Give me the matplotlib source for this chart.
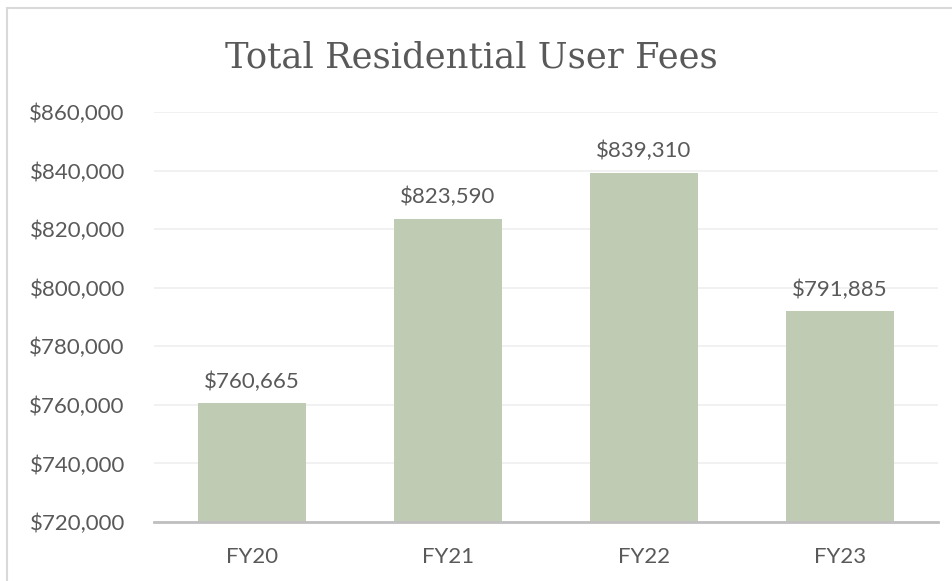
import matplotlib
matplotlib.use("Agg")
import matplotlib.pyplot as plt
from matplotlib.patches import Rectangle
from matplotlib.ticker import FuncFormatter

# data
years = ["FY20", "FY21", "FY22", "FY23"]
fees = [760665, 823590, 839310, 791885]
y_ticks = [720000, 740000, 760000, 780000, 800000, 820000, 840000, 860000]

text_color = "#595959"
bar_color = "#BFCBB2"

fig = plt.figure(figsize=(9.52, 5.81), dpi=100)
fig.patches.append(Rectangle((7 / 952, -0.1), 1.2, 1 - 8 / 581 + 0.1,
                             transform=fig.transFigure, fill=False,
                             edgecolor="#D9D9D9", linewidth=1.5))

ax = fig.add_axes([154 / 952, 1 - 522 / 581, (938 - 154) / 952, (522 - 112) / 581])

x = range(len(years))
ax.bar(x, fees, width=0.556, color=bar_color, zorder=2)

for i, v in enumerate(fees):
    ax.annotate("${:,}".format(v), (i, v), xytext=(0, 8), textcoords="offset points",
                ha="center", va="bottom", fontsize=16, color=text_color, family="Lato")

ax.set_xlim(-0.5, len(years) - 0.5)
ax.set_ylim(720000, 860000)
ax.set_yticks(y_ticks)
ax.yaxis.set_major_formatter(FuncFormatter(lambda v, p: "${:,.0f}".format(v)))
ax.set_xticks(list(x))
ax.set_xticklabels(years)

ax.grid(axis="y", color="#EFEFEF", linewidth=1.2, zorder=0)
for s in ["top", "right", "left"]:
    ax.spines[s].set_visible(False)
ax.spines["bottom"].set_color("#BFBFBF")
ax.spines["bottom"].set_linewidth(2)
ax.spines["bottom"].set_zorder(3)

ax.tick_params(length=0, colors=text_color, labelsize=16)
ax.tick_params(axis="y", pad=21)
ax.tick_params(axis="x", pad=18)
for lab in ax.get_xticklabels() + ax.get_yticklabels():
    lab.set_family("Lato")

fig.text(0.495, 1 - 58 / 581, "Total Residential User Fees", ha="center",
         va="center", fontsize=25.5, color=text_color, family="DejaVu Serif")

fig.savefig("out.png", dpi=100)
